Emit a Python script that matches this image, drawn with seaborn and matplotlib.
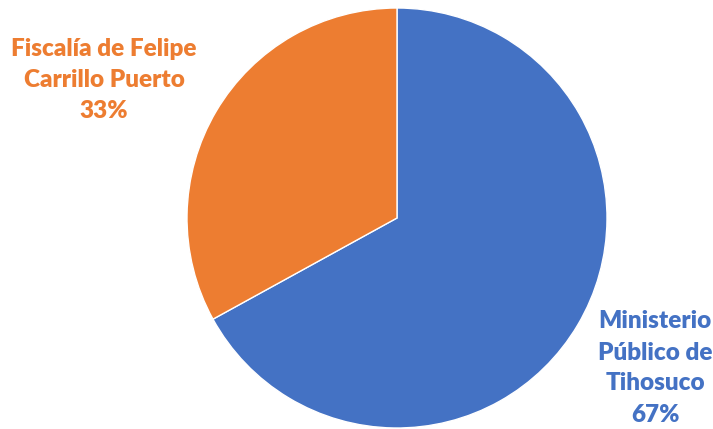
import matplotlib
matplotlib.use("Agg")
import matplotlib.pyplot as plt
import seaborn as sns

categories = ["Ministerio\nPúblico de\nTihosuco", "Fiscalía de Felipe\nCarrillo Puerto"]
values = [67, 33]
colors = ["#4472C4", "#ED7D31"]

sns.set_theme(style="white")
plt.rcParams['font.family'] = ['Lato', 'DejaVu Sans']

W, H = 713, 429
fig = plt.figure(figsize=(W / 100, H / 100), dpi=100)
ax = fig.add_axes([0, 0, 1, 1])

ax.pie(values, colors=colors, startangle=90, counterclock=False,
       center=(397, H - 218), radius=210, frame=True,
       wedgeprops=dict(linewidth=1.0, edgecolor="white"))
ax.set_xlim(0, W)
ax.set_ylim(0, H)
ax.set_aspect("equal")
ax.axis("off")

label_pos = [(655, H - 368), (104, H - 80)]
for cat, val, col, (x, y) in zip(categories, values, colors, label_pos):
    ax.text(x, y, f"{cat}\n{val}%", ha="center", va="center", color=col,
            fontsize=17.5, fontweight="heavy", linespacing=1.5)

fig.savefig("out.png", dpi=100)
